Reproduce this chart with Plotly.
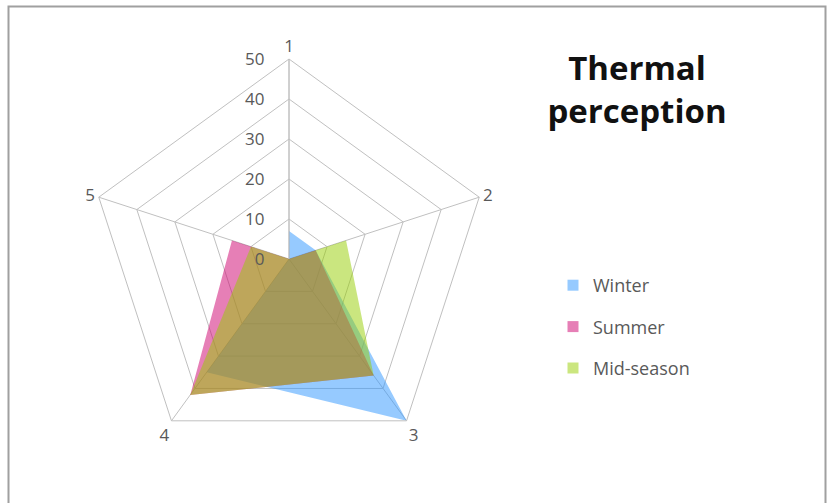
import plotly.graph_objects as go

# Axes of the radar (clockwise from the top)
categories = ["1", "2", "3", "4", "5"]

# Share of responses per axis for each season
series_names = ["Winter", "Summer", "Mid-season"]
winter = [7, 7, 50, 35, 0]
summer = [0, 7, 36, 42, 15]
mid_season = [0, 15, 36, 42, 10]

radial_ticks = [0, 10, 20, 30, 40, 50]

fill_colors = ["rgba(45,150,255,0.5)", "rgba(205,0,110,0.5)", "rgba(150,205,0,0.5)"]
legend_colors = ["#96caff", "#e67fb6", "#cbe67f"]

W, H = 828, 503
FONT = "Open Sans"
GRID = "#c0c0c0"
TEXT = "#595959"

# Polar area: centre (289, 259), radius 200 px
cx, cy, rad = 289, 259, 200

fig = go.Figure()
for name, vals, fc in zip(series_names, [winter, summer, mid_season], fill_colors):
    fig.add_trace(go.Scatterpolar(
        r=vals + vals[:1],
        theta=categories + categories[:1],
        mode="lines",
        fill="toself",
        fillcolor=fc,
        line=dict(width=0, color=fc),
        name=name,
        showlegend=False,
        hoverinfo="skip",
    ))

# Legend entries with small square keys
for i, (name, lc) in enumerate(zip(series_names, legend_colors)):
    fig.add_trace(go.Scatterpolar(
        r=[None], theta=[None],
        mode="markers",
        marker=dict(symbol="square", size=11, color=lc),
        name=name,
        legendgroup=f"g{i}",
        showlegend=True,
    ))

fig.update_layout(
    width=W, height=H,
    margin=dict(l=0, r=0, t=0, b=0),
    paper_bgcolor="white",
    plot_bgcolor="white",
    font=dict(family=FONT, color=TEXT, size=17),
    polar=dict(
        domain=dict(x=[(cx - rad) / W, (cx + rad) / W],
                    y=[(H - cy - rad) / H, (H - cy + rad) / H]),
        bgcolor="white",
        gridshape="linear",
        radialaxis=dict(
            range=[0, 50],
            tickvals=radial_ticks,
            angle=90,
            tickangle=90,
            side="counterclockwise",
            showline=True,
            linecolor=GRID,
            gridcolor=GRID,
            ticks="outside",
            ticklen=18,
            tickcolor="rgba(0,0,0,0)",
            tickfont=dict(size=17, color=TEXT, family=FONT),
        ),
        angularaxis=dict(
            categoryarray=categories,
            rotation=90,
            direction="clockwise",
            showline=True,
            linecolor=GRID,
            gridcolor=GRID,
            ticks="",
            tickfont=dict(size=17, color=TEXT, family=FONT),
        ),
    ),
    legend=dict(
        x=553 / W, y=1 - 267 / H,
        xanchor="left", yanchor="top",
        font=dict(size=18, color=TEXT, family=FONT),
        tracegroupgap=15,
        bgcolor="rgba(0,0,0,0)",
    ),
    title=dict(
        text="Thermal<br>perception",
        x=637 / W, xanchor="center",
        y=1 - 80 / H, yanchor="top",
        font=dict(family=FONT, size=33, color="#111111", weight="bold"),
    ),
    shapes=[dict(
        type="rect", xref="paper", yref="paper",
        x0=8.5 / W, x1=825.5 / W, y0=-0.05, y1=1 - 6.5 / H,
        line=dict(color="#a0a0a0", width=2),
    )],
)

fig.write_html("out.html")
